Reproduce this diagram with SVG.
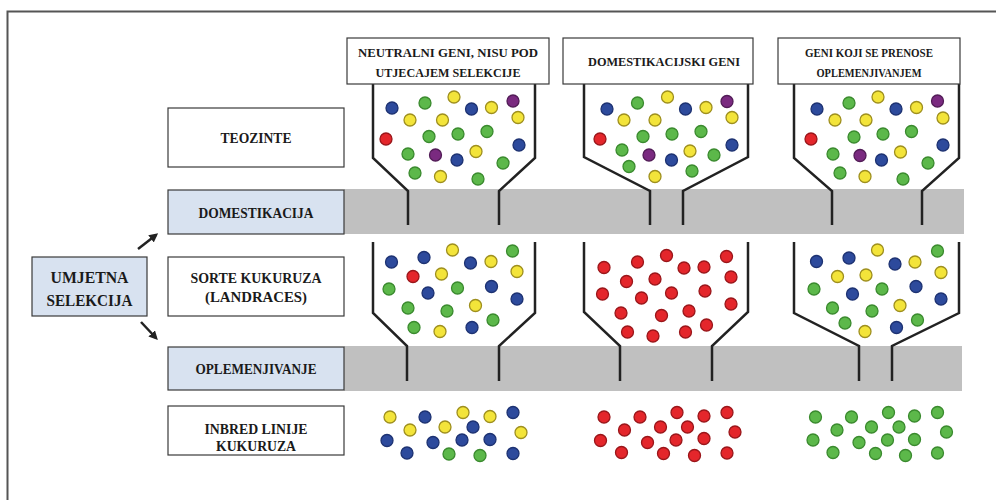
<svg xmlns="http://www.w3.org/2000/svg" width="996" height="500" viewBox="0 0 996 500">
<defs>
<style>
.box{fill:#fff;stroke:#3a3a3a;stroke-width:1.2}
.bl{fill:#d8e2f0;stroke:#3a3a3a;stroke-width:1.2}
.t{font-family:"Liberation Serif",serif;font-weight:bold;fill:#1a1a1a;text-anchor:middle}
.h{font-size:13.5px}
.l{font-size:14.5px}
.band{fill:#c0c0c0}
.fun{fill:none;stroke:#222;stroke-width:2.5;stroke-linejoin:miter}
.b{fill:#2d4a9c;stroke:#1d3272;stroke-width:1.3}
.g{fill:#5cb84a;stroke:#3a8a2e;stroke-width:1.3}
.y{fill:#f3e43a;stroke:#9e8f1e;stroke-width:1.3}
.r{fill:#e4262b;stroke:#9a161a;stroke-width:1.3}
.p{fill:#7a2a80;stroke:#521c57;stroke-width:1.3}
.arr{fill:none;stroke:#222;stroke-width:2.5}
</style>
<marker id="ah" viewBox="0 0 10 10" refX="7" refY="5" markerWidth="3.6" markerHeight="3.6" orient="auto">
<path d="M0,0 L10,5 L0,10 z" fill="#222"/>
</marker>
</defs>
<rect width="996" height="500" fill="#fff"/>
<path d="M7.5,500 V11.5 H996" fill="none" stroke="#555" stroke-width="2"/>

<g id="bands">
<rect class="band" x="344" y="189" width="620" height="45"/>
<rect class="band" x="344" y="346" width="618" height="45"/>
</g>

<g id="funnels">
<polyline class="fun" points="373,84 373,158 408,191 408,225"/>
<polyline class="fun" points="535,84 535,158 499,191 499,225"/>
<polyline class="fun" points="584,84 584,157 650,191 650,225"/>
<polyline class="fun" points="748,84 748,157 683,191 683,225"/>
<polyline class="fun" points="794,84 794,158 832,191 832,225"/>
<polyline class="fun" points="959,84 959,158 922,191 922,225"/>
<polyline class="fun" points="373,242 373,313 407,346 407,381"/>
<polyline class="fun" points="535,242 535,313 499,346 499,381"/>
<polyline class="fun" points="584,242 584,312 620,346 620,381"/>
<polyline class="fun" points="748,242 748,312 712,346 712,381"/>
<polyline class="fun" points="794,242 794,313 859,346 859,381"/>
<polyline class="fun" points="959,242 959,313 892,346 892,381"/>
</g>

<g id="head1"><rect class="box" x="347" y="38" width="202" height="46"/>
<text class="t h" x="448" y="57" textLength="180" lengthAdjust="spacingAndGlyphs">NEUTRALNI GENI, NISU POD</text>
<text class="t h" x="448" y="76.5" textLength="145" lengthAdjust="spacingAndGlyphs">UTJECAJEM SELEKCIJE</text></g>
<g id="head2"><rect class="box" x="563" y="38" width="190" height="46"/>
<text class="t h" x="664" y="66" textLength="152" lengthAdjust="spacingAndGlyphs">DOMESTIKACIJSKI GENI</text></g>
<g id="head3"><rect class="box" x="778" y="38" width="182" height="46"/>
<text class="t h" x="869" y="57" textLength="128" lengthAdjust="spacingAndGlyphs">GENI KOJI SE PRENOSE</text>
<text class="t h" x="869" y="76.5" textLength="105" lengthAdjust="spacingAndGlyphs">OPLEMENJIVANJEM</text></g>

<g id="teozinte"><rect class="box" x="168" y="108" width="176" height="59"/>
<text class="t l" x="256" y="143" textLength="71" lengthAdjust="spacingAndGlyphs">TEOZINTE</text></g>
<g id="domestikacija"><rect class="bl" x="168" y="190" width="176" height="44"/>
<text class="t l" x="256" y="217.5" textLength="115" lengthAdjust="spacingAndGlyphs">DOMESTIKACIJA</text></g>
<g id="sorte"><rect class="box" x="168" y="257" width="176" height="59"/>
<text class="t l" x="256" y="283" textLength="131" lengthAdjust="spacingAndGlyphs">SORTE KUKURUZA</text>
<text class="t l" x="256" y="301.5" textLength="102" lengthAdjust="spacingAndGlyphs">(LANDRACES)</text></g>
<g id="oplemenjivanje"><rect class="bl" x="168" y="347" width="176" height="43"/>
<text class="t l" x="256" y="374" textLength="121" lengthAdjust="spacingAndGlyphs">OPLEMENJIVANJE</text></g>
<g id="inbred"><rect class="box" x="168" y="406" width="176" height="49"/>
<text class="t l" x="256" y="434" textLength="103" lengthAdjust="spacingAndGlyphs">INBRED LINIJE</text>
<text class="t l" x="256" y="451" textLength="80" lengthAdjust="spacingAndGlyphs">KUKURUZA</text></g>
<g id="umjetna"><rect class="bl" x="32" y="257" width="115" height="59"/>
<text class="t" font-size="17.5" x="89.5" y="283" textLength="78" lengthAdjust="spacingAndGlyphs">UMJETNA</text>
<text class="t" font-size="17.5" x="89.5" y="305.5" textLength="86" lengthAdjust="spacingAndGlyphs">SELEKCIJA</text></g>

<g id="connectors">
<line class="arr" x1="138" y1="249" x2="156" y2="235" marker-end="url(#ah)"/>
<line class="arr" x1="141" y1="322" x2="156" y2="338" marker-end="url(#ah)"/>
</g>

<g id="dots-row1">
<g id="r1f1">
<circle class="b" cx="392" cy="108" r="6"/><circle class="g" cx="425" cy="103" r="6"/><circle class="y" cx="454" cy="97" r="6"/><circle class="b" cx="471.5" cy="109" r="6"/><circle class="y" cx="491.5" cy="107.5" r="6"/><circle class="p" cx="513" cy="101" r="6"/>
<circle class="y" cx="410" cy="120" r="6"/><circle class="y" cx="442.5" cy="120" r="6"/><circle class="y" cx="518" cy="117.5" r="6"/>
<circle class="r" cx="386" cy="139" r="6"/><circle class="g" cx="429" cy="136.5" r="6"/><circle class="g" cx="458" cy="134" r="6"/><circle class="g" cx="487" cy="131.5" r="6"/><circle class="b" cx="519" cy="145" r="6"/>
<circle class="g" cx="408" cy="154" r="6"/><circle class="p" cx="435.5" cy="155" r="6"/><circle class="b" cx="457" cy="160" r="6"/><circle class="y" cx="476" cy="151.5" r="6"/><circle class="g" cx="503" cy="163" r="6"/>
<circle class="g" cx="415" cy="173" r="6"/><circle class="y" cx="440.5" cy="176.5" r="6"/><circle class="g" cx="478" cy="179" r="6"/>
</g>
<g id="r1f2">
<circle class="b" cx="607" cy="109" r="6"/><circle class="g" cx="637.5" cy="103" r="6"/><circle class="y" cx="667.5" cy="97" r="6"/><circle class="b" cx="685.5" cy="109" r="6"/><circle class="y" cx="706" cy="107.5" r="6"/><circle class="p" cx="727" cy="101.5" r="6"/>
<circle class="y" cx="624" cy="120" r="6"/><circle class="y" cx="655" cy="120" r="6"/><circle class="y" cx="732" cy="117.5" r="6"/>
<circle class="r" cx="600" cy="139" r="6"/><circle class="g" cx="643" cy="136.5" r="6"/><circle class="g" cx="672" cy="134" r="6"/><circle class="g" cx="701" cy="131.5" r="6"/><circle class="b" cx="732" cy="145" r="6"/>
<circle class="g" cx="622" cy="150" r="6"/><circle class="p" cx="649" cy="155" r="6"/><circle class="b" cx="671.5" cy="160" r="6"/><circle class="y" cx="690" cy="151" r="6"/><circle class="g" cx="714" cy="155" r="6"/>
<circle class="g" cx="629" cy="166.5" r="6"/><circle class="y" cx="655" cy="176.5" r="6"/><circle class="g" cx="692" cy="171" r="6"/>
</g>
<g id="r1f3">
<circle class="b" cx="817" cy="109" r="6"/><circle class="g" cx="849" cy="103" r="6"/><circle class="y" cx="878" cy="97" r="6"/><circle class="b" cx="896" cy="109" r="6"/><circle class="y" cx="916.5" cy="107.5" r="6"/><circle class="p" cx="937.5" cy="101" r="6"/>
<circle class="y" cx="835" cy="120" r="6"/><circle class="y" cx="866" cy="120" r="6"/><circle class="y" cx="943" cy="118" r="6"/>
<circle class="r" cx="811" cy="139" r="6"/><circle class="g" cx="854" cy="137" r="6"/><circle class="g" cx="883" cy="134" r="6"/><circle class="g" cx="911.5" cy="131.5" r="6"/><circle class="b" cx="943" cy="145" r="6"/>
<circle class="g" cx="833" cy="154" r="6"/><circle class="p" cx="860" cy="155.5" r="6"/><circle class="b" cx="881.5" cy="160" r="6"/><circle class="y" cx="900.5" cy="152" r="6"/><circle class="g" cx="928" cy="163" r="6"/>
<circle class="g" cx="840" cy="173" r="6"/><circle class="y" cx="865" cy="176.5" r="6"/><circle class="g" cx="903" cy="179" r="6"/>
</g>
</g>

<g id="dots-row2">
<g id="r2f1">
<circle class="b" cx="391.5" cy="262" r="6"/><circle class="b" cx="424" cy="257.5" r="6"/><circle class="y" cx="452.5" cy="250" r="6"/><circle class="b" cx="470.5" cy="263" r="6"/><circle class="y" cx="491" cy="261.5" r="6"/><circle class="g" cx="512.5" cy="251" r="6"/>
<circle class="r" cx="413" cy="276.5" r="6"/><circle class="y" cx="441.5" cy="274" r="6"/><circle class="y" cx="517" cy="271.5" r="6"/>
<circle class="g" cx="389" cy="289" r="6"/><circle class="b" cx="428" cy="293" r="6"/><circle class="g" cx="457.5" cy="288" r="6"/><circle class="b" cx="491.5" cy="286.5" r="6"/><circle class="b" cx="517" cy="299" r="6"/>
<circle class="g" cx="408" cy="308" r="6"/><circle class="g" cx="447" cy="311" r="6"/><circle class="y" cx="475.5" cy="305.5" r="6"/><circle class="g" cx="493" cy="320" r="6"/>
<circle class="g" cx="414" cy="327.5" r="6"/><circle class="y" cx="440" cy="331.5" r="6"/><circle class="b" cx="472" cy="327.5" r="6"/>
</g>
<g id="r2f2">
<circle class="r" cx="604" cy="267.5" r="6"/><circle class="r" cx="637.5" cy="262" r="6"/><circle class="r" cx="666.5" cy="255.5" r="6"/><circle class="r" cx="684" cy="268" r="6"/><circle class="r" cx="704" cy="267" r="6"/><circle class="r" cx="726.5" cy="256.5" r="6"/>
<circle class="r" cx="626.5" cy="281.5" r="6"/><circle class="r" cx="655" cy="279" r="6"/><circle class="r" cx="731" cy="277" r="6"/>
<circle class="r" cx="602.5" cy="294" r="6"/><circle class="r" cx="641.5" cy="298" r="6"/><circle class="r" cx="671.5" cy="293" r="6"/><circle class="r" cx="705" cy="291" r="6"/><circle class="r" cx="731" cy="304" r="6"/>
<circle class="r" cx="621" cy="313" r="6"/><circle class="r" cx="661.5" cy="315.5" r="6"/><circle class="r" cx="689" cy="311" r="6"/><circle class="r" cx="706.5" cy="325" r="6"/>
<circle class="r" cx="627.5" cy="332" r="6"/><circle class="r" cx="653" cy="336" r="6"/><circle class="r" cx="685.5" cy="332" r="6"/>
</g>
<g id="r2f3">
<circle class="b" cx="816.5" cy="261.5" r="6"/><circle class="b" cx="849" cy="258" r="6"/><circle class="y" cx="877.5" cy="250" r="6"/><circle class="b" cx="895" cy="264" r="6"/><circle class="y" cx="915" cy="262" r="6"/><circle class="g" cx="937.5" cy="251" r="6"/>
<circle class="y" cx="837.5" cy="276.5" r="6"/><circle class="y" cx="866" cy="275" r="6"/><circle class="y" cx="941" cy="272.5" r="6"/>
<circle class="g" cx="814" cy="289" r="6"/><circle class="b" cx="852.5" cy="294" r="6"/><circle class="g" cx="882" cy="289" r="6"/><circle class="b" cx="916" cy="286.5" r="6"/><circle class="b" cx="941" cy="299" r="6"/>
<circle class="g" cx="832.5" cy="308" r="6"/><circle class="g" cx="872" cy="311" r="6"/><circle class="y" cx="900" cy="305.5" r="6"/>
<circle class="g" cx="845" cy="323" r="6"/><circle class="g" cx="917.5" cy="320" r="6"/><circle class="y" cx="865" cy="331.5" r="6"/><circle class="b" cx="896.5" cy="327.5" r="6"/>
</g>
</g>

<g id="dots-row3">
<g id="r3f1">
<circle class="y" cx="390" cy="417" r="6"/><circle class="b" cx="425" cy="417" r="6"/><circle class="y" cx="463" cy="412.5" r="6"/><circle class="y" cx="490" cy="416.5" r="6"/><circle class="b" cx="513" cy="412.5" r="6"/>
<circle class="y" cx="410" cy="430" r="6"/><circle class="y" cx="445" cy="427" r="6"/><circle class="b" cx="473" cy="427" r="6"/><circle class="y" cx="521" cy="432.5" r="6"/>
<circle class="b" cx="387" cy="440.5" r="6"/><circle class="b" cx="433" cy="442.5" r="6"/><circle class="b" cx="462" cy="440" r="6"/><circle class="b" cx="490" cy="439.5" r="6"/>
<circle class="b" cx="407" cy="453" r="6"/><circle class="g" cx="449" cy="454" r="6"/><circle class="g" cx="480" cy="455.5" r="6"/><circle class="b" cx="513" cy="453.5" r="6"/>
</g>
<g id="r3f2">
<circle class="r" cx="604" cy="417" r="6"/><circle class="r" cx="640" cy="417" r="6"/><circle class="r" cx="677" cy="412.5" r="6"/><circle class="r" cx="704" cy="416" r="6"/><circle class="r" cx="727" cy="412.5" r="6"/>
<circle class="r" cx="624.5" cy="430" r="6"/><circle class="r" cx="660.5" cy="427" r="6"/><circle class="r" cx="687.5" cy="427" r="6"/><circle class="r" cx="735" cy="432" r="6"/>
<circle class="r" cx="600.5" cy="440.5" r="6"/><circle class="r" cx="647.5" cy="442.5" r="6"/><circle class="r" cx="676" cy="440" r="6"/><circle class="r" cx="704" cy="438.5" r="6"/>
<circle class="r" cx="621.5" cy="452.5" r="6"/><circle class="r" cx="663.5" cy="453.5" r="6"/><circle class="r" cx="694.5" cy="455.5" r="6"/><circle class="r" cx="727" cy="453" r="6"/>
</g>
<g id="r3f3">
<circle class="g" cx="815.5" cy="417" r="6"/><circle class="g" cx="851.5" cy="417" r="6"/><circle class="g" cx="888.5" cy="412.5" r="6"/><circle class="g" cx="914.5" cy="416" r="6"/><circle class="g" cx="937.5" cy="412.5" r="6"/>
<circle class="g" cx="837" cy="430" r="6"/><circle class="g" cx="871.5" cy="427" r="6"/><circle class="g" cx="899" cy="427" r="6"/><circle class="g" cx="946.5" cy="432" r="6"/>
<circle class="g" cx="813" cy="440" r="6"/><circle class="g" cx="859" cy="442.5" r="6"/><circle class="g" cx="887.5" cy="440" r="6"/><circle class="g" cx="914.5" cy="439.5" r="6"/>
<circle class="g" cx="833" cy="452.5" r="6"/><circle class="g" cx="875.5" cy="453.5" r="6"/><circle class="g" cx="905.5" cy="455.5" r="6"/><circle class="g" cx="937.5" cy="453" r="6"/>
</g>
</g>
</svg>
